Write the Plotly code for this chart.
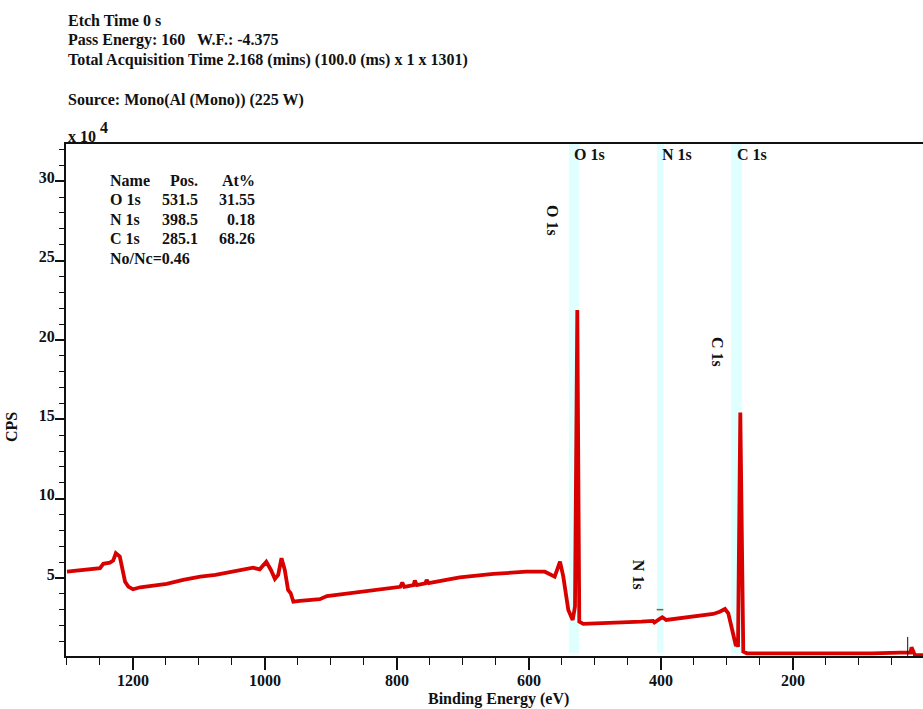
import plotly.graph_objects as go

# ---------------- data ----------------
energy_ev = [1300, 1290, 1275, 1260, 1250, 1245, 1235, 1230, 1226, 1220, 1212, 1207, 1200, 1189,
             1170, 1149, 1124, 1098, 1075, 1048, 1025, 1018, 1008, 998, 991, 985, 980, 975, 970,
             965, 961, 957, 947, 917, 906, 856, 806, 795, 792, 789, 775, 773, 770, 757, 755, 752,
             705, 654, 604, 576, 561, 553, 548, 540.4, 533.8, 530.3, 526.8, 523.8, 517.7, 485,
             457, 430, 412, 410, 403, 398, 392, 375, 356, 340, 321, 311, 303, 298, 290.5, 286.4,
             284.4, 283.3, 279.8, 275.3, 270, 230, 180, 129, 80, 38, 28, 22, 20.4, 17, 15.4, 8, 3]
counts_e4 = [5.40, 5.45, 5.50, 5.55, 5.62, 5.90, 5.97, 6.10, 6.56, 6.35, 4.77, 4.46, 4.29, 4.42,
             4.50, 4.63, 4.88, 5.09, 5.20, 5.40, 5.60, 5.65, 5.55, 6.03, 5.51, 4.95, 5.20, 6.25, 5.51,
             4.25, 4.04, 3.51, 3.56, 3.67, 3.87, 4.14, 4.40, 4.45, 4.71, 4.45, 4.55, 4.84, 4.56, 4.67, 4.88, 4.68,
             5.05, 5.26, 5.40, 5.40, 5.09, 6.03, 5.09, 2.99, 2.36, 3.20, 21.88, 2.25, 2.11, 2.15,
             2.19, 2.25, 2.30, 2.20, 2.40, 2.53, 2.36, 2.45, 2.53, 2.62, 2.74, 2.88, 3.05, 2.78, 1.31, 0.72,
             0.89, 0.66, 15.42, 0.37, 0.26, 0.26, 0.24, 0.23, 0.26, 0.30, 0.28, 0.30, 0.64, 0.30, 0.16, 0.15, 0.15]

peak_names = ["O 1s", "N 1s", "C 1s"]
peak_pos = [531.5, 398.5, 285.1]
peak_at = ["31.55", "0.18", "68.26"]
peak_band_hi = [539.5, 406.0, 294.0]
peak_band_lo = [524.0, 396.0, 277.8]
vlabel_x = [563.6, 434.8, 315.1]
vlabel_y = [27.55, 5.2, 19.24]
ratio_text = "No/Nc=0.46"

header_lines = ["Etch Time 0 s",
                "Pass Energy: 160   W.F.: -4.375",
                "Total Acquisition Time 2.168 (mins) (100.0 (ms) x 1 x 1301)",
                "",
                "Source: Mono(Al (Mono)) (225 W)"]

x_range = [1301.5, 3.0]
y_range = [0.09, 32.34]

# ---------------- layout helpers ----------------
W, H = 923, 709
L, R, T, B = 66, 0, 144, 53
PW, PH = W - L - R, H - T - B


def px_x(px):
    return (px - L) / PW


def px_y(py):
    return (H - B - py) / PH


FONT = "Liberation Serif"
INK = "#111111"

fig = go.Figure()

# shaded peak bands
for hi, lo in zip(peak_band_hi, peak_band_lo):
    fig.add_shape(type="rect", xref="x", yref="paper", x0=hi, x1=lo, y0=0.006, y1=1,
                  fillcolor="#e0ffff", line_width=0, layer="below")

fig.add_trace(go.Scatter(x=energy_ev, y=counts_e4, mode="lines",
                         line=dict(color="#d90000", width=3.8), hoverinfo="skip",
                         showlegend=False))

# small fitting markers
fig.add_shape(type="line", xref="x", yref="y", x0=406.5, x1=396.5, y0=3.01, y1=3.01,
              line=dict(color="#6f6a2a", width=1.5))
fig.add_shape(type="line", xref="x", yref="y", x0=26.2, x1=26.2, y0=0.05, y1=1.29,
              line=dict(color="#111111", width=1))

annotations = []
# header lines
for i, txt in enumerate(header_lines):
    if not txt:
        continue
    annotations.append(dict(text=txt, xref="paper", yref="paper", x=px_x(66), y=px_y(20 + 20 * i),
                            xanchor="left", yanchor="middle", showarrow=False))
annotations.append(dict(text="x 10", xref="paper", yref="paper", x=px_x(66), y=px_y(136),
                        xanchor="left", yanchor="middle", showarrow=False))
annotations.append(dict(text="4", xref="paper", yref="paper", x=px_x(98), y=px_y(127),
                        xanchor="left", yanchor="middle", showarrow=False))

# table
row_y = [180, 199.5, 219, 238.5, 258]
annotations.append(dict(text="Name", xref="paper", yref="paper", x=px_x(108), y=px_y(row_y[0]),
                        xanchor="left", yanchor="middle", showarrow=False))
annotations.append(dict(text="Pos.", xref="paper", yref="paper", x=px_x(200), y=px_y(row_y[0]),
                        xanchor="right", yanchor="middle", showarrow=False))
annotations.append(dict(text="At%", xref="paper", yref="paper", x=px_x(257), y=px_y(row_y[0]),
                        xanchor="right", yanchor="middle", showarrow=False))
for i, (n, p, a) in enumerate(zip(peak_names, peak_pos, peak_at)):
    yy = px_y(row_y[i + 1])
    annotations.append(dict(text=n, xref="paper", yref="paper", x=px_x(108), y=yy,
                            xanchor="left", yanchor="middle", showarrow=False))
    annotations.append(dict(text=f"{p:.1f}", xref="paper", yref="paper", x=px_x(200), y=yy,
                            xanchor="right", yanchor="middle", showarrow=False))
    annotations.append(dict(text=a, xref="paper", yref="paper", x=px_x(257), y=yy,
                            xanchor="right", yanchor="middle", showarrow=False))
annotations.append(dict(text=ratio_text, xref="paper", yref="paper", x=px_x(108), y=px_y(row_y[4]),
                        xanchor="left", yanchor="middle", showarrow=False))

# peak labels at the top and rotated labels
for n, p, vx, vy in zip(peak_names, peak_pos, vlabel_x, vlabel_y):
    annotations.append(dict(text=n, xref="x", yref="paper", x=p, y=px_y(154), xshift=-2,
                            xanchor="left", yanchor="middle", showarrow=False))
    annotations.append(dict(text=n, xref="x", yref="y", x=vx, y=vy, textangle=90,
                            xanchor="center", yanchor="middle", showarrow=False))

# axis titles
annotations.append(dict(text="Binding Energy (eV)", xref="paper", yref="paper", x=px_x(498), y=px_y(699),
                        xanchor="center", yanchor="middle", showarrow=False))
annotations.append(dict(text="CPS", xref="paper", yref="paper", x=px_x(11), y=px_y(427),
                        xanchor="center", yanchor="middle", textangle=-90, showarrow=False))

fig.update_layout(
    width=W, height=H,
    margin=dict(l=L, r=R, t=T, b=B, pad=0),
    paper_bgcolor="white", plot_bgcolor="white",
    font=dict(family=FONT, size=16, color=INK, weight="bold"),
    annotations=annotations,
    showlegend=False,
)
fig.update_xaxes(range=x_range, showgrid=False, zeroline=False,
                 showline=True, linecolor=INK, linewidth=2, mirror=True,
                 ticks="outside", ticklen=12, tickwidth=1.5, tickcolor=INK,
                 tick0=0, dtick=200, ticklabelstandoff=-3,
                 minor=dict(dtick=50, tick0=0, ticks="outside", ticklen=7, tickwidth=1.3, tickcolor=INK),
                 tickfont=dict(size=16, family=FONT, weight="bold"))
fig.update_yaxes(range=y_range, showgrid=False, zeroline=False,
                 showline=True, linecolor=INK, linewidth=2,
                 ticks="outside", ticklen=9, tickwidth=1.5, tickcolor=INK,
                 tick0=0, dtick=5, ticklabelstandoff=-3, ticklabelshift=-4,
                 minor=dict(dtick=1, tick0=0, ticks="outside", ticklen=5, tickwidth=1.3, tickcolor=INK),
                 tickfont=dict(size=16, family=FONT, weight="bold"))

fig.write_html("out.html", config={"displayModeBar": False},
               post_script="document.body.style.margin='0';document.body.style.overflow='hidden';")
